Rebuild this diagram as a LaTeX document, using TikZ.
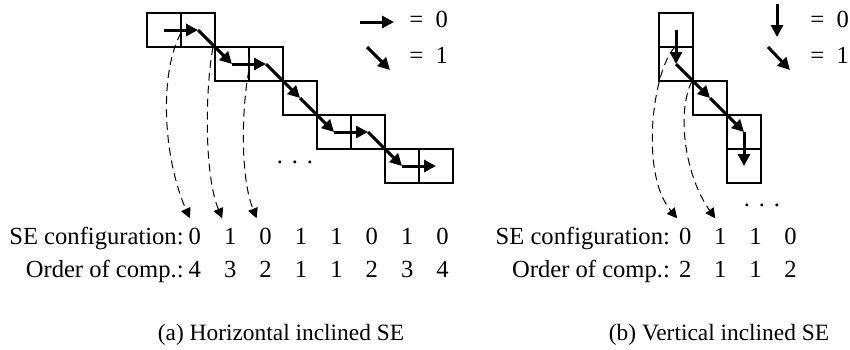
\documentclass[tikz,border=0pt]{standalone}
\usepackage{fontspec}
\setmainfont{Liberation Serif}
\usetikzlibrary{arrows.meta,positioning,calc}
\newcommand\lblfont{\fontsize{12.3}{15}\selectfont}
\newcommand\capfont{\fontsize{11.7}{14}\selectfont}
\begin{document}
\begin{tikzpicture}[x=0.5pt,y=-0.5pt,
  cell/.style={draw,line width=0.6pt,minimum size=17pt,inner sep=0pt,outer sep=0pt},
  mv/.style={-{Triangle[length=6pt,width=6pt]},line width=1.5pt},
  lnk/.style={-{Triangle[length=5pt,width=5pt]},dash pattern=on 4pt off 2.5pt,line width=0.5pt},
  txt/.style={font=\lblfont,inner sep=0pt},
  captxt/.style={font=\capfont,inner sep=0pt}]
  \useasboundingbox (0,0) rectangle (850,349);
  % (a) horizontal inclined
  \node[cell] (c1) at (164,30) {};
  \node[cell,right=0pt of c1] (c2) {};
  \node[cell,below right=0pt of c2] (c3) {};
  \node[cell,right=0pt of c3] (c4) {};
  \node[cell,below right=0pt of c4] (c5) {};
  \node[cell,below right=0pt of c5] (c6) {};
  \node[cell,right=0pt of c6] (c7) {};
  \node[cell,below right=0pt of c7] (c8) {};
  \node[cell,right=0pt of c8] (c9) {};
  \draw[mv] (c1.center) -- (c2.center);
  \draw[mv] (c2.center) -- (c3.center);
  \draw[mv] (c3.center) -- (c4.center);
  \draw[mv] (c4.center) -- (c5.center);
  \draw[mv] (c5.center) -- (c6.center);
  \draw[mv] (c6.center) -- (c7.center);
  \draw[mv] (c7.center) -- (c8.center);
  \draw[mv] (c8.center) -- (c9.center);
  \node[txt,anchor=base] (dotsa) at (295,163) {.\hspace{0.36em}.\hspace{0.36em}.};
  % legend (a)
  \coordinate (ha0) at (360,22);
  \coordinate (ha1) at (394,22);
  \coordinate (da0) at (367,47);
  \coordinate (da1) at (390,70);
  \draw[mv] (ha0) -- (ha1);
  \draw[mv] (da0) -- (da1);
  \node[txt,anchor=base west] (eqa0) at (409,27) {=\hspace{0.5em}0};
  \node[txt,anchor=base west] (eqa1) at (409,63) {=\hspace{0.5em}1};
  % rows (a)
  \node[txt,anchor=base east] (cfga) at (184,244) {SE configuration:};
  \node[txt,anchor=base east] (orda) at (184,277) {Order of comp.:};
  \foreach \v [count=\i] in {0,1,0,1,1,0,1,0}
    \node[txt,anchor=base] (sa\i) at (159.4+35.4*\i,244) {\v};
  \foreach \v [count=\i] in {4,3,2,1,1,2,3,4}
    \node[txt,anchor=base] (oa\i) at (159.4+35.4*\i,277) {\v};
  \draw[lnk] ([yshift=-1.5pt]c1.east) .. controls +(-21,37) and +(-28,-64) .. ($(sa1.north)+(-5,-9)$);
  \draw[lnk] ([xshift=-1pt]c2.south east) .. controls +(-8,43) and +(-18,-43) .. ($(sa2.north)+(-8,-9)$);
  \draw[lnk] ([yshift=-3pt]c3.east) .. controls +(-7,35) and +(-17,-43) .. ($(sa3.north)+(-9,-9)$);
  \node[captxt,anchor=base] (capa) at (281,340) {(a) Horizontal inclined SE};
  % (b) vertical inclined
  \node[cell] (v1) at (676,30) {};
  \node[cell,below=0pt of v1] (v2) {};
  \node[cell,below right=0pt of v2] (v3) {};
  \node[cell,below right=0pt of v3] (v4) {};
  \node[cell,below=0pt of v4] (v5) {};
  \draw[mv] (v1.center) -- (v2.center);
  \draw[mv] (v2.center) -- (v3.center);
  \draw[mv] (v3.center) -- (v4.center);
  \draw[mv] (v4.center) -- (v5.center);
  \node[txt,anchor=base] (dotsb) at (762,206) {.\hspace{0.36em}.\hspace{0.36em}.};
  % legend (b)
  \coordinate (hb0) at (777,4);
  \coordinate (hb1) at (777,37);
  \coordinate (db0) at (768,47);
  \coordinate (db1) at (790,70);
  \draw[mv] (hb0) -- (hb1);
  \draw[mv] (db0) -- (db1);
  \node[txt,anchor=base west] (eqb0) at (810,27) {=\hspace{0.5em}0};
  \node[txt,anchor=base west] (eqb1) at (810,63) {=\hspace{0.5em}1};
  % rows (b)
  \node[txt,anchor=base east] (cfgb) at (670.3,244) {SE configuration:};
  \node[txt,anchor=base east] (ordb) at (670.3,277) {Order of comp.:};
  \foreach \v [count=\i] in {0,1,1,0}
    \node[txt,anchor=base] (sb\i) at (650.1+35.1*\i,244) {\v};
  \foreach \v [count=\i] in {2,1,1,2}
    \node[txt,anchor=base] (ob\i) at (650.1+35.1*\i,277) {\v};
  \draw[lnk] ([xshift=-0.5pt]v2.north) .. controls +(-22,22) and +(-38,-45) .. ($(sb1.north)+(-8,-9)$);
  \draw[lnk] ([xshift=-0.5pt]v2.south east) .. controls +(-16,32) and +(-30,-42) .. ($(sb2.north)+(-5,-9)$);
  \node[captxt,anchor=base] (capb) at (719,340) {(b) Vertical inclined SE};
\end{tikzpicture}
\end{document}
